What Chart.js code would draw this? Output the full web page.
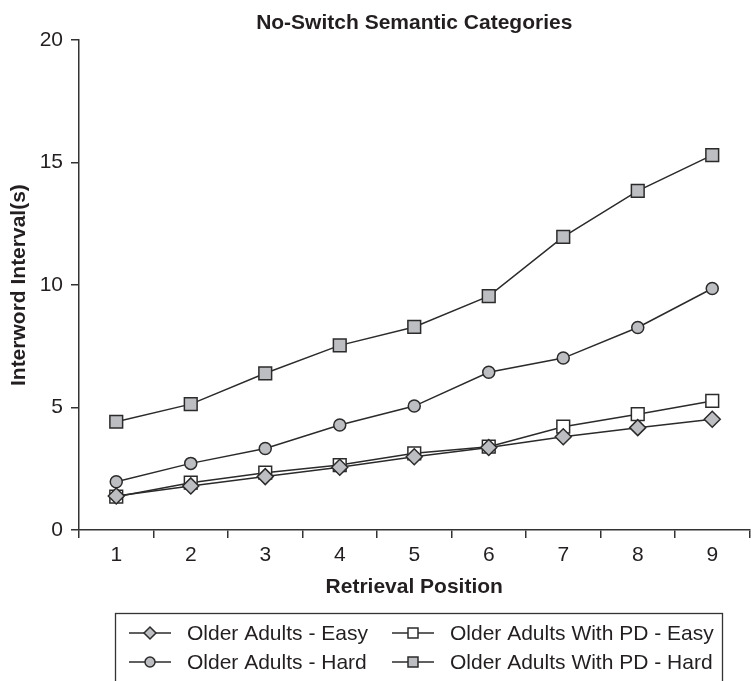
<!DOCTYPE html>
<html>
<head>
<meta charset="utf-8">
<script src="https://cdn.jsdelivr.net/npm/chart.js@4/dist/chart.umd.min.js"></script>
<style>
    html, body { margin: 0; padding: 0; background: #fff; overflow: hidden; }
    #wrap { width: 751px; height: 681px; overflow: hidden; }
</style>
</head>
<body>
<div id="wrap"><canvas id="interwordChart" width="760" height="681"></canvas></div>
<script>
const positions = ['1', '2', '3', '4', '5', '6', '7', '8', '9'];
const yTicks = [0, 5, 10, 15, 20];
const olderEasy = [1.39, 1.80, 2.18, 2.56, 2.99, 3.37, 3.81, 4.18, 4.52];
const pdEasy = [1.36, 1.93, 2.34, 2.65, 3.13, 3.40, 4.22, 4.73, 5.27];
const olderHard = [1.97, 2.72, 3.33, 4.29, 5.06, 6.44, 7.02, 8.27, 9.86];
const pdHard = [4.42, 5.14, 6.40, 7.54, 8.29, 9.55, 11.97, 13.85, 15.31];
const seriesNames = ['Older Adults - Easy', 'Older Adults With PD - Easy', 'Older Adults - Hard', 'Older Adults With PD - Hard'];

const INK = '#231f20';
const LINE = '#2b2b2b';
const GRAY = '#bdbec2';
const FONT = '"Liberation Sans", Arial, Helvetica, sans-serif';

function makeSeries(label, data, style, radius, fill) {
    return {
        label: label,
        data: data,
        borderColor: LINE,
        borderWidth: 1.5,
        pointStyle: style,
        pointRadius: radius,
        pointHoverRadius: radius,
        pointBackgroundColor: fill,
        pointBorderColor: LINE,
        pointBorderWidth: 1.5,
        fill: false,
        tension: 0,
    };
}

// legend drawn by hand so it can sit in its own box under the axis title
const boxLegend = {
    id: 'boxLegend',
    afterDraw(chart) {
        const ctx = chart.ctx;
        ctx.save();
        ctx.strokeStyle = '#333';
        ctx.lineWidth = 1.3;
        ctx.strokeRect(115.5, 613.5, 607, 100);

        const items = [
            { name: seriesNames[0], style: 'diamond', fill: GRAY, x: 129, y: 633 },
            { name: seriesNames[1], style: 'square', fill: '#fff', x: 392, y: 633 },
            { name: seriesNames[2], style: 'circle', fill: GRAY, x: 129, y: 662 },
            { name: seriesNames[3], style: 'square', fill: GRAY, x: 392, y: 662 },
        ];
        ctx.font = '21px ' + FONT;
        ctx.textBaseline = 'middle';
        ctx.textAlign = 'left';
        items.forEach(it => {
            const mx = it.x + 21;
            ctx.strokeStyle = LINE;
            ctx.lineWidth = 1.5;
            ctx.beginPath();
            ctx.moveTo(it.x, it.y);
            ctx.lineTo(it.x + 42, it.y);
            ctx.stroke();
            ctx.beginPath();
            if (it.style === 'diamond') {
                ctx.moveTo(mx - 6, it.y);
                ctx.lineTo(mx, it.y - 6);
                ctx.lineTo(mx + 6, it.y);
                ctx.lineTo(mx, it.y + 6);
                ctx.closePath();
            } else if (it.style === 'circle') {
                ctx.arc(mx, it.y, 5, 0, Math.PI * 2);
            } else {
                ctx.rect(mx - 5, it.y - 5, 10, 10);
            }
            ctx.fillStyle = it.fill;
            ctx.fill();
            ctx.stroke();
            ctx.fillStyle = INK;
            ctx.fillText(it.name, it.x + 58, it.y + 1);
        });
        ctx.restore();
    }
};

function renderInterwordChart() {
    const ctx = document.getElementById('interwordChart').getContext('2d');
    new Chart(ctx, {
        type: 'line',
        data: {
            labels: positions,
            datasets: [
                makeSeries(seriesNames[0], olderEasy, 'rectRot', 8, GRAY),
                makeSeries(seriesNames[1], pdEasy, 'rect', 9, '#fff'),
                makeSeries(seriesNames[2], olderHard, 'circle', 6, GRAY),
                makeSeries(seriesNames[3], pdHard, 'rect', 9, GRAY),
            ],
        },
        options: {
            responsive: false,
            animation: false,
            layout: { padding: { top: 0, left: 0, right: 4, bottom: 81 } },
            plugins: {
                legend: { display: false },
                tooltip: { enabled: false },
                title: {
                    display: true,
                    text: 'No-Switch Semantic Categories',
                    fullSize: false,
                    color: INK,
                    font: { family: FONT, size: 21, weight: 'bold' },
                    padding: { top: 11, bottom: 4 },
                },
            },
            scales: {
                x: {
                    offset: true,
                    afterFit: s => { s.height = 70; },
                    grid: { drawOnChartArea: false, offset: true, tickLength: 8, color: '#333', lineWidth: 1.5 },
                    border: { color: '#333', width: 1.5 },
                    ticks: { color: INK, padding: 5, font: { family: FONT, size: 21 } },
                    title: {
                        display: true,
                        text: 'Retrieval Position',
                        color: INK,
                        padding: { top: 0, bottom: 0 },
                        font: { family: FONT, size: 21, weight: 'bold' },
                    },
                },
                y: {
                    min: yTicks[0],
                    max: yTicks[yTicks.length - 1],
                    afterFit: s => { s.width = 79; },
                    afterBuildTicks: s => { s.ticks = yTicks.map(v => ({ value: v })); },
                    grid: { drawOnChartArea: false, tickLength: 8, color: '#333', lineWidth: 1.5 },
                    border: { color: '#333', width: 1.5 },
                    ticks: { color: INK, padding: 8, font: { family: FONT, size: 21 } },
                    title: {
                        display: true,
                        text: 'Interword Interval(s)',
                        color: INK,
                        padding: { top: 7, bottom: 0 },
                        font: { family: FONT, size: 21, weight: 'bold' },
                    },
                },
            },
        },
        plugins: [boxLegend],
    });
}

renderInterwordChart();
</script>
</body>
</html>
